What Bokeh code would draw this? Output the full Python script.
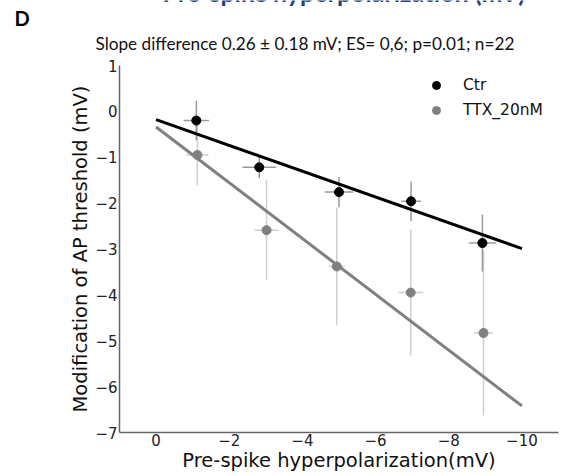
from bokeh.plotting import figure
from bokeh.models import Range1d, FixedTicker, Legend, LegendItem
from bokeh.core.properties import value
from bokeh.embed import file_html
from bokeh.resources import INLINE

# ---- data ----
ctr_x = [-1.1, -2.82, -5.0, -6.97, -8.92]
ctr_y = [-0.2, -1.22, -1.76, -1.96, -2.87]
ctr_xerr = [0.35, 0.46, 0.39, 0.27, 0.37]
ctr_yerr = [0.43, 0.24, 0.33, 0.43, 0.62]

ttx_x = [-1.13, -3.02, -4.94, -6.96, -8.95]
ttx_y = [-0.95, -2.59, -3.38, -3.95, -4.83]
ttx_xerr = [0.30, 0.33, 0.22, 0.34, 0.26]
ttx_yerr = [0.66, 1.09, 1.28, 1.37, 1.80]

fit_x = [0, -10]
ctr_fit = [-0.18, -2.99]
ttx_fit = [-0.34, -6.42]

x_ticks = [0, -2, -4, -6, -8, -10]
y_ticks = [1, 0, -1, -2, -3, -4, -5, -6, -7]

title_text = "Slope difference 0.26 \u00b1  0.18 mV; ES= 0,6; p=0.01; n=22"
header_text = "Pre-spike hyperpolarization (mV)"
panel_text = "D"
series_names = ["Ctr", "TTX_20nM"]


def lab(v):
    return str(v).replace("-", "\u2212")


# ---- header strip (texts above the plot) ----
W = 568
H_TOP = 53
top = figure(width=W, height=H_TOP, x_range=Range1d(0, W), y_range=Range1d(H_TOP, 0),
             output_backend="svg", toolbar_location=None,
             x_axis_location=None, y_axis_location=None,
             min_border=0, min_border_left=0, min_border_right=0,
             min_border_top=0, min_border_bottom=0)
top.outline_line_color = None
top.xgrid.visible = False
top.ygrid.visible = False
top.text(x=[162], y=[-9], text=[header_text], text_font=value("Lato"),
         text_font_size="25px", text_font_style="bold", text_color="#22407a",
         text_baseline="middle", text_align="left")
top.text(x=[14], y=[17], text=[panel_text], text_font=value("Lato"),
         text_font_size="20px", text_font_style="bold", text_color="#000000",
         text_baseline="middle", text_align="left")
top.text(x=[95], y=[42.5], text=[title_text], text_font=value("Lato"),
         text_font_size="17.2px", text_color="#111111",
         text_baseline="middle", text_align="left")

# ---- main plot ----
p = figure(width=W, height=476 - H_TOP, x_range=Range1d(1, -11), y_range=Range1d(-7, 1),
           output_backend="svg", toolbar_location=None,
           min_border_left=119, min_border_right=10, min_border_top=65 - H_TOP,
           min_border_bottom=44)
p.outline_line_color = None
p.xgrid.visible = False
p.ygrid.visible = False

for ax in (p.xaxis[0], p.yaxis[0]):
    ax.axis_line_color = "#666666"
    ax.axis_line_width = 1.5
    ax.major_tick_line_color = None
    ax.minor_tick_line_color = None
    ax.major_tick_out = 0
    ax.major_tick_in = 0
    ax.minor_tick_out = 0
    ax.minor_tick_in = 0
    ax.major_label_text_font = "DejaVu Sans"
    ax.major_label_text_font_size = "15px"
    ax.major_label_text_color = "#222222"
    ax.axis_label_text_font = "DejaVu Sans"
    ax.axis_label_text_font_size = "19.5px"
    ax.axis_label_text_font_style = "normal"
    ax.axis_label_text_color = "#111111"
    ax.axis_label_standoff = 0

p.xaxis.major_label_standoff = 1
p.yaxis.major_label_standoff = 2
p.xaxis.ticker = FixedTicker(ticks=x_ticks)
p.yaxis.ticker = FixedTicker(ticks=y_ticks)
p.xaxis.major_label_overrides = {v: lab(v) for v in x_ticks}
p.yaxis.major_label_overrides = {v: lab(v) for v in y_ticks}
p.xaxis.axis_label = "Pre-spike hyperpolarization(mV)"
p.yaxis.axis_label = "Modification of AP threshold (mV)"


def errbars(xs, ys, xe, ye, color):
    p.segment(x0=[x - e for x, e in zip(xs, xe)], x1=[x + e for x, e in zip(xs, xe)],
              y0=ys, y1=ys, line_color=color, line_width=1.5)
    p.segment(x0=xs, x1=xs, y0=[y - e for y, e in zip(ys, ye)],
              y1=[y + e for y, e in zip(ys, ye)], line_color=color, line_width=1.5)


errbars(ttx_x, ttx_y, ttx_xerr, ttx_yerr, "#cfcfcf")
errbars(ctr_x, ctr_y, ctr_xerr, ctr_yerr, "#9a9a9a")

p.line(fit_x, ttx_fit, line_color="#808080", line_width=3)
p.line(fit_x, ctr_fit, line_color="#000000", line_width=3)

r_ttx = p.scatter(ttx_x, ttx_y, size=9, fill_color="#808080", line_color="#808080")
r_ctr = p.scatter(ctr_x, ctr_y, size=9, fill_color="#000000", line_color="#000000")

legend = Legend(items=[LegendItem(label=series_names[0], renderers=[r_ctr]),
                       LegendItem(label=series_names[1], renderers=[r_ttx])],
                location=(307, 312), border_line_alpha=0, background_fill_alpha=0,
                label_text_font="DejaVu Sans", label_text_font_size="15.5px",
                label_text_color="#111111", glyph_width=20, glyph_height=20,
                label_height=20, label_standoff=17, spacing=5, padding=0, margin=0)
p.add_layout(legend)

open("out.html", "w").write(file_html([top, p], INLINE))
